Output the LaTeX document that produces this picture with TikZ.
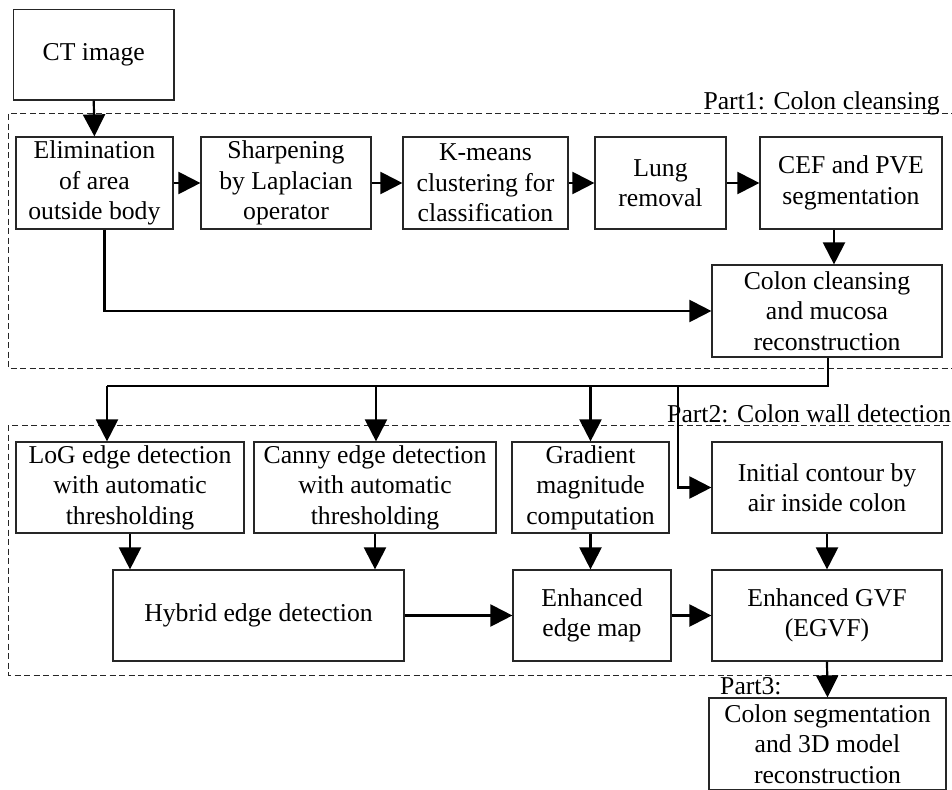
\documentclass[tikz,border=0pt]{standalone}
\usepackage{fontspec}
\setmainfont{Liberation Serif}
\usetikzlibrary{arrows.meta}
\tikzset{
  box/.style={draw=black!85, line width=1.2pt, rectangle, align=center, inner sep=0pt,
    font=\fontsize{25.7}{30.5}\selectfont},
  flow/.style={line width=2.2pt, -{Triangle[length=22pt,width=22pt]}},
  plain/.style={line width=2.2pt},
  part/.style={draw=black!85, line width=1pt, dash pattern=on 6pt off 3.5pt},
  lbl/.style={inner sep=0pt, font=\fontsize{25.7}{30.5}\selectfont},
}
\begin{document}
\begin{tikzpicture}[x=1pt,y=-1pt]
\clip (0,0) rectangle (952,789);
\fill[white] (0,0) rectangle (952,789);
% part frames
\draw[part] (8,114) rectangle (960,368);
\draw[part] (8,425) rectangle (960,675);
\node[lbl, anchor=base east] (p1) at (940,110) {Part1: Colon cleansing};
\node[lbl, anchor=base west] (p2) at (667,422) {Part2: Colon wall detection};
\node[lbl, anchor=base west] (p3) at (720,694) {Part3:};
% nodes
\node[box, minimum width=160.5, minimum height=90.5] (ct) at (93.75,54.75) {CT image};
\node[box, minimum width=157, minimum height=92] (elim) at (94.4,183) {Elimination\\of area\\outside body};
\node[box, minimum width=170, minimum height=92] (sharp) at (286,183) {Sharpening\\by Laplacian\\operator};
\node[box, minimum width=165, minimum height=92] (kmeans) at (485.5,183) {K-means\\clustering for\\classification};
\node[box, minimum width=131, minimum height=92] (lung) at (660.5,183) {Lung\\removal};
\node[box, minimum width=182, minimum height=92] (cef) at (851,183) {CEF and PVE\\segmentation};
\node[box, minimum width=230, minimum height=92] (clean) at (827,311) {Colon cleansing\\and mucosa\\reconstruction};
\node[box, minimum width=228, minimum height=91] (log) at (130,487.5) {LoG edge detection\\with automatic\\thresholding};
\node[box, minimum width=242, minimum height=91] (canny) at (375,487.5) {Canny edge detection\\with automatic\\thresholding};
\node[box, minimum width=157, minimum height=91] (grad) at (590.5,487.5) {Gradient\\magnitude\\computation};
\node[box, minimum width=230, minimum height=91] (init) at (827,487.5) {Initial contour by\\air inside colon};
\node[box, minimum width=291, minimum height=91] (hyb) at (258.5,615.5) {Hybrid edge detection};
\node[box, minimum width=158, minimum height=91] (emap) at (592,615.5) {Enhanced\\edge map};
\node[box, minimum width=230, minimum height=91] (egvf) at (827,615.5) {Enhanced GVF\\(EGVF)};
\node[box, minimum width=237, minimum height=92] (final) at (827.5,744) {Colon segmentation\\and 3D model\\reconstruction};
% connectors
\draw[flow] (ct.south) -- (elim.north);
\draw[flow] (elim) -- (sharp);
\draw[flow] (sharp) -- (kmeans);
\draw[flow] (kmeans) -- (lung);
\draw[flow] (lung) -- (cef);
\draw[flow] (cef.south) ++(-17,0) coordinate (c1) -- (c1 |- clean.north);
\draw[flow] (elim.south) ++(10,0) coordinate (e1) -- (e1 |- clean.west) -- (clean.west);
\coordinate (bus) at (828,386);
\draw[plain] (clean.south) ++(1,0) coordinate (c2) -- (c2 |- bus) -- (107,386) coordinate (busl);
\draw[flow] (busl) -- (busl |- log.north);
\coordinate (bc) at (376,386);
\draw[flow] (bc) -- (bc |- canny.north);
\coordinate (bg) at (590.5,386);
\draw[flow] (bg) -- (grad.north);
\coordinate (bi) at (678,386);
\draw[flow] (bi) -- (bi |- init.west) -- (init.west);
\draw[flow] (log.south) -- (log.south |- hyb.north);
\draw[flow] (canny.south) -- (canny.south |- hyb.north);
\draw[flow] (grad.south) -- (grad.south |- emap.north);
\draw[flow] (init.south) -- (egvf.north);
\draw[flow] (hyb) -- (emap);
\draw[flow] (emap) -- (egvf);
\draw[flow] (egvf.south) -- (final.north);
\end{tikzpicture}
\end{document}
